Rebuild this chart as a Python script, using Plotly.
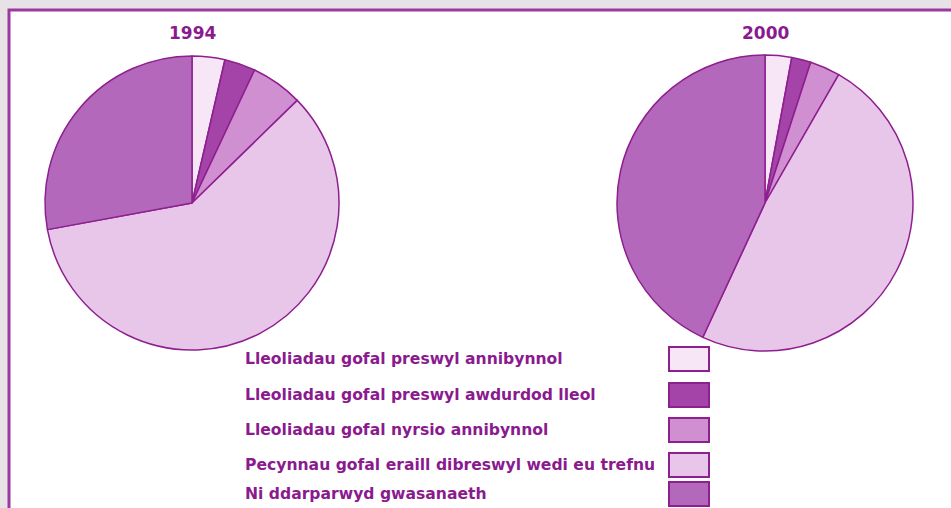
import plotly.graph_objects as go

categories = [
    "Lleoliadau gofal preswyl annibynnol",
    "Lleoliadau gofal preswyl awdurdod lleol",
    "Lleoliadau gofal nyrsio annibynnol",
    "Pecynnau gofal eraill dibreswyl wedi eu trefnu",
    "Ni ddarparwyd gwasanaeth",
]
values_1994 = [3.6, 3.4, 5.7, 59.4, 27.9]
values_2000 = [2.9, 2.1, 3.3, 48.6, 43.1]
years = ["1994", "2000"]
colors = ["#f6e6f6", "#a443a8", "#d08fd0", "#e8c6ea", "#b468bc"]
edge = "#8e1f8e"
text_col = "#8a1a8e"

W, H = 951, 508

def px_x(x):
    return x / W

def px_y(y):
    return 1 - y / H

fig = go.Figure()

pies = [(values_1994, 192, 203, 147), (values_2000, 765, 203, 148)]
for yr, (vals, cx, cy, r) in zip(years, pies):
    fig.add_trace(go.Pie(
        labels=categories, values=vals, name=yr,
        sort=False, direction="clockwise", rotation=0,
        marker=dict(colors=colors, line=dict(color=edge, width=1.5)),
        textinfo="none", hoverinfo="label+percent", showlegend=False,
        domain=dict(x=[px_x(cx - r), px_x(cx + r)], y=[px_y(cy + r), px_y(cy - r)]),
    ))
    fig.add_annotation(text="<b>" + yr + "</b>", x=px_x(cx), y=px_y(33),
                       xref="paper", yref="paper", showarrow=False,
                       xanchor="center", yanchor="middle",
                       font=dict(family="DejaVu Sans", size=17, color=text_col))

shapes = [
    dict(type="rect", xref="paper", yref="paper", x0=-0.01, x1=1.01, y0=-0.01, y1=1.01,
         fillcolor="#e6e2e6", line=dict(width=0), layer="below"),
    dict(type="rect", xref="paper", yref="paper", x0=px_x(9), x1=1.02, y0=-0.02, y1=px_y(10),
         fillcolor="white", line=dict(color="#9a3aa0", width=3), layer="below"),
]

row_y = [359, 395, 430, 465, 494]
for cat, col, ry in zip(categories, colors, row_y):
    fig.add_annotation(text="<b>" + cat + "</b>", x=px_x(243), y=px_y(ry), xref="paper", yref="paper",
                       xanchor="left", yanchor="middle", showarrow=False,
                       font=dict(family="DejaVu Sans", size=15.6, color=text_col))
    shapes.append(dict(type="rect", xref="paper", yref="paper",
                       x0=px_x(669), x1=px_x(709), y0=px_y(ry + 12), y1=px_y(ry - 12),
                       fillcolor=col, line=dict(color=edge, width=2)))

fig.update_layout(
    width=W, height=H, margin=dict(l=0, r=0, t=0, b=0),
    paper_bgcolor="white", plot_bgcolor="white",
    shapes=shapes,
)

fig.write_html("out.html", config={"displayModeBar": False},
               post_script="document.body.style.margin='0';document.body.style.overflow='hidden';")
